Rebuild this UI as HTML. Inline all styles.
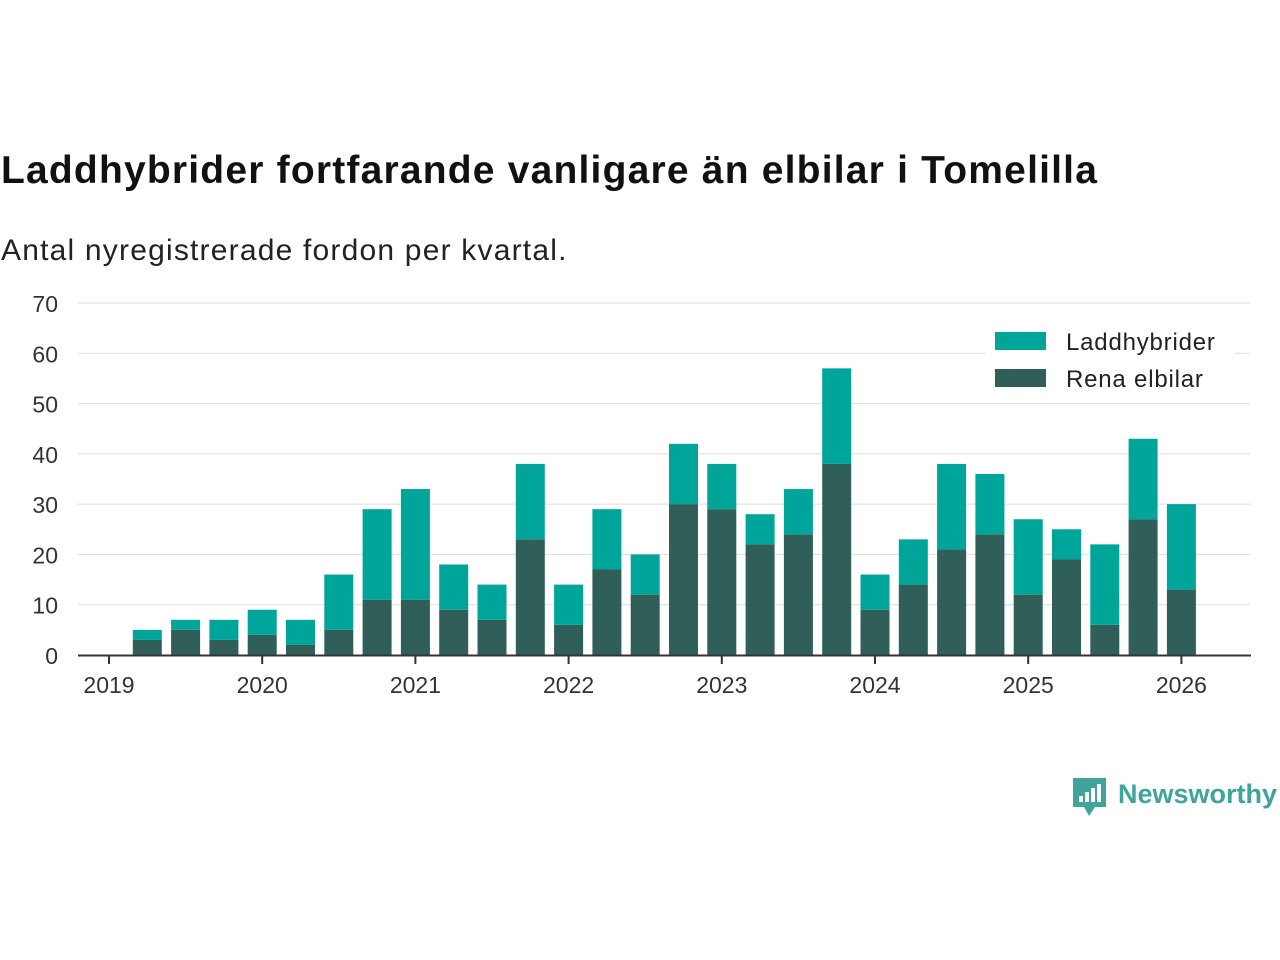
<!DOCTYPE html>
<html><head><meta charset="utf-8"><style>
body{margin:0;background:#fff;font-family:"Liberation Sans","DejaVu Sans",sans-serif;}
#wrap{position:relative;width:1280px;height:960px;overflow:hidden;}
h1{position:absolute;left:1px;top:149px;margin:0;font-size:39px;font-weight:bold;color:#111;letter-spacing:1.2px;}
.sub{position:absolute;left:1px;top:234px;font-size:30px;color:#222;letter-spacing:1.2px;}
svg{position:absolute;left:0;top:0;}
</style></head><body><div id="wrap">
<h1>Laddhybrider fortfarande vanligare än elbilar i Tomelilla</h1>
<div class="sub">Antal nyregistrerade fordon per kvartal.</div>
<svg id="chart" width="1280" height="960"></svg>
</div>
<script>
const elbil=[3,5,3,4,2,5,11,11,9,7,23,6,17,12,30,29,22,24,38,9,14,21,24,12,19,6,27,13];
const totals=[5,7,7,9,7,16,29,33,18,14,38,14,29,20,42,38,28,33,57,16,23,38,36,27,25,22,43,30];
const yTicks=[0,10,20,30,40,50,60,70];
const years=[2019,2020,2021,2022,2023,2024,2025,2026];
const NS="http://www.w3.org/2000/svg";
const svg=document.getElementById('chart');
const y=v=>655-v*(352/70);
const x=t=>109+(t-2019)*153.2;
function mk(tag,attrs,parent){const e=document.createElementNS(NS,tag);for(const k in attrs)e.setAttribute(k,attrs[k]);(parent||svg).appendChild(e);return e;}
yTicks.forEach(v=>{
  if(v>0){const l=mk('line',{x1:78,x2:1250,y1:y(v),y2:y(v),stroke:'#ddd','stroke-width':1});
  
  }
  const t=mk('text',{x:58,y:y(v)+9,'text-anchor':'end','font-size':23,fill:'#333'});
  t.textContent=v;
  
  
});
elbil.forEach((e,i)=>{
  const cx=x(2019+(i+1)/4), w=29;
  const r1=mk('rect',{x:cx-w/2,y:y(e),width:w,height:y(0)-y(e),fill:'#2f5f58'});
  
  
  const r2=mk('rect',{x:cx-w/2,y:y(totals[i]),width:w,height:y(e)-y(totals[i]),fill:'#00a59a'});
  
  
});
const ax=mk('line',{x1:78,x2:1251,y1:655.5,y2:655.5,stroke:'#333','stroke-width':2});


years.forEach(yr=>{
  const tk=mk('line',{x1:x(yr),x2:x(yr),y1:655,y2:664,stroke:'#333','stroke-width':2});
  
  
  const t=mk('text',{x:x(yr),y:693,'text-anchor':'middle','font-size':23,fill:'#333'});
  t.textContent=yr;
  
  
});
const lg=mk('g',{});


mk('rect',{x:985,y:324,width:250,height:78,fill:'#fff'},lg);
[['Laddhybrider','#00a59a',341],['Rena elbilar','#2f5f58',378]].forEach(([n,c,yy])=>{
  const g=mk('g',{},lg);
  
  
  mk('rect',{x:995,y:yy-9,width:51,height:18,fill:c},g);
  const t=mk('text',{x:1066,y:yy+9,'font-size':24,fill:'#222','letter-spacing':0.8},g);t.textContent=n;
});
const lo=mk('g',{});


mk('path',{d:'M1073 778h33v29h-11l-6 9-5-9h-11z',fill:'#3fa49a'},lo);
[[1079,796,4,6],[1085,792,4,10],[1091,788,4,14],[1097,784,4,18]].forEach(([a,b,c,d])=>mk('rect',{x:a,y:b,width:c,height:d,fill:'#fff'},lo));
const lt=mk('text',{x:1118,y:803,'font-size':27,'font-weight':'bold',fill:'#3fa49a'},lo);lt.textContent='Newsworthy';
</script></body></html>
